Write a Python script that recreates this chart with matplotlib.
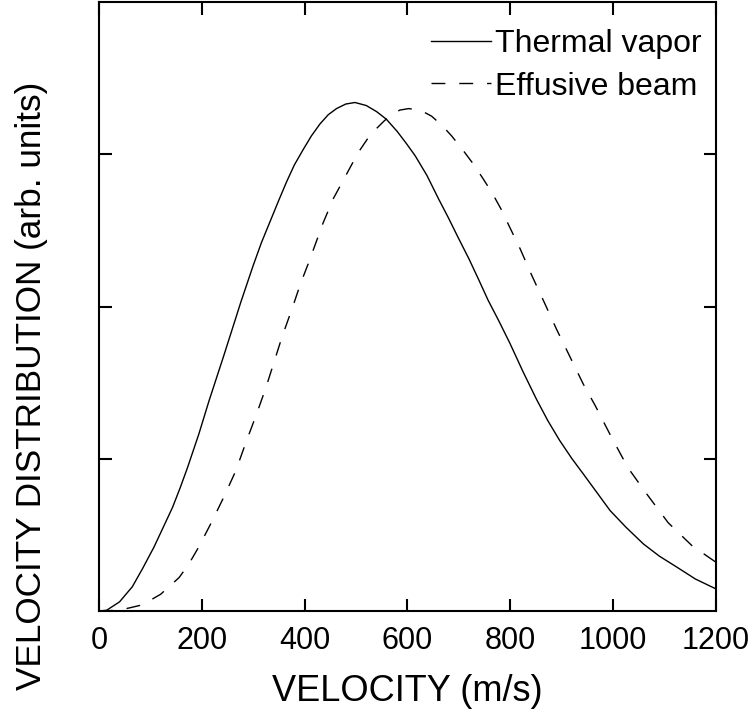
#!/usr/bin/env python3

import matplotlib
matplotlib.use("Agg")
import matplotlib.pyplot as plt

# velocity (m/s) and distribution (arb. units)
thermal_v = [0, 15, 40, 65, 85, 107, 125, 143, 158, 172, 194, 214, 243, 260,
             276, 300, 316, 333, 350, 365, 380, 397, 413, 430, 446, 462, 480,
             498, 520, 540, 559, 580, 598, 615, 638, 660, 680, 699, 720, 738,
             757, 777, 799, 825, 851, 873, 896, 920, 942, 968, 994, 1025, 1059,
             1090, 1123, 1160, 1200]
thermal_y = [0, 0.005, 0.06, 0.16, 0.28, 0.42, 0.55, 0.68, 0.81, 0.94, 1.16,
             1.38, 1.68, 1.86, 2.03, 2.27, 2.42, 2.56, 2.70, 2.82, 2.93, 3.03,
             3.12, 3.20, 3.26, 3.30, 3.33, 3.34, 3.32, 3.28, 3.23, 3.15, 3.07,
             2.99, 2.86, 2.71, 2.58, 2.45, 2.31, 2.18, 2.04, 1.91, 1.76, 1.57,
             1.39, 1.25, 1.12, 1.00, 0.90, 0.78, 0.66, 0.55, 0.44, 0.36, 0.29,
             0.21, 0.145]

effusive_v = [0, 40, 84, 120, 156, 175, 194, 220, 243, 266, 285, 305, 324, 340,
              356, 376, 392, 408, 422, 436, 456, 480, 504, 522, 540, 555, 569,
              585, 602, 625, 647, 667, 686, 705, 725, 745, 764, 782, 799, 819,
              841, 867, 890, 916, 942, 965, 997, 1029, 1065, 1107, 1153, 1200]
effusive_y = [0, 0.005, 0.04, 0.11, 0.22, 0.31, 0.42, 0.59, 0.75, 0.92, 1.10,
              1.28, 1.46, 1.63, 1.80, 1.99, 2.15, 2.29, 2.42, 2.55, 2.71, 2.86,
              3.01, 3.10, 3.17, 3.22, 3.26, 3.29, 3.30, 3.29, 3.25, 3.19, 3.12,
              3.04, 2.95, 2.85, 2.75, 2.64, 2.52, 2.38, 2.21, 2.02, 1.85, 1.67,
              1.49, 1.35, 1.14, 0.94, 0.77, 0.58, 0.43, 0.32]

x_ticks = [0, 200, 400, 600, 800, 1000, 1200]
y_ticks = [1, 2, 3]

plt.rcParams['font.family'] = ['Liberation Sans', 'DejaVu Sans']

fig = plt.figure(figsize=(7.55, 7.24), dpi=100)
ax = fig.add_axes([0.1311, 0.1561, 0.8172, 0.8411])

ax.plot(thermal_v, thermal_y, color='black', lw=1.0, label='Thermal vapor')
ax.plot(effusive_v, effusive_y, color='black', lw=1.0, linestyle=(0, (10, 10)),
        label='Effusive beam')

ax.set_xlim(0, 1200)
ax.set_ylim(0, 4)
ax.set_xticks(x_ticks)
ax.set_yticks(y_ticks)
ax.set_yticklabels([])
ax.tick_params(direction='in', length=9, width=1.5, top=True, right=True,
               labelsize=22, pad=11)
for s in ax.spines.values():
    s.set_linewidth(1.5)

ax.set_xlabel('VELOCITY (m/s)', fontsize=26, labelpad=13)
ax.set_ylabel('VELOCITY DISTRIBUTION (arb. units)', fontsize=25.3)
ax.yaxis.set_label_coords(-0.083, 0.37)

ax.legend(loc='upper right', frameon=False, fontsize=23, handlelength=1.9,
          handletextpad=0.1, labelspacing=0.38, borderaxespad=0, borderpad=0,
          bbox_to_anchor=(0.976, 0.955))

fig.savefig('out.png', dpi=100)
